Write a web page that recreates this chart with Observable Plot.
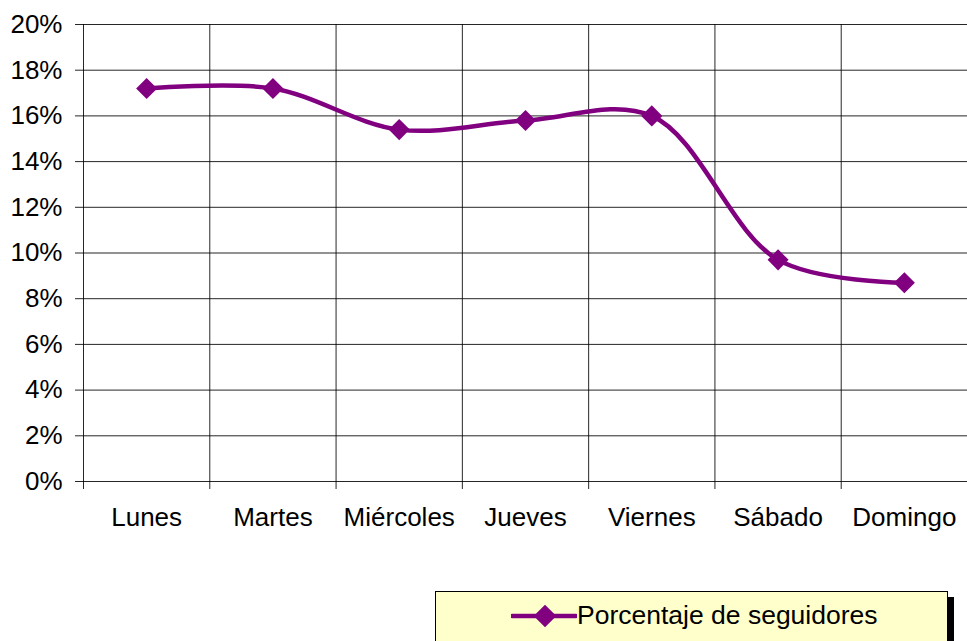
<!DOCTYPE html>
<html>
<head>
<meta charset="utf-8">
<script src="https://cdn.jsdelivr.net/npm/d3@7"></script>
<script src="https://cdn.jsdelivr.net/npm/@observablehq/plot@0.6"></script>
<style>
  body { margin: 0; background: #fff; font-family: Arial, "Liberation Sans", sans-serif; }
  #wrap { position: relative; width: 967px; height: 641px; overflow: hidden; }
  #legend {
    position: absolute; left: 435px; top: 591px; width: 513px; height: 60px;
    background: #FFFFCC; border: 1px solid #000; box-shadow: 6px 6px 0 #000;
    box-sizing: border-box;
  }
  #legend .item { position: absolute; left: 75px; top: 8px; display: flex; align-items: center; }
  #legend span { font-size: 26.5px; color: #000; margin-left: 0px; }
</style>
</head>
<body>
<div id="wrap">
  <div id="chart"></div>
  <div id="legend"><div class="item">
    <svg width="66" height="24"><line x1="1" x2="65" y1="12" y2="12" stroke="#800080" stroke-width="4.5" stroke-linecap="round"/><rect x="26" y="4" width="16" height="16" fill="#800080" transform="rotate(45 34 12)"/></svg>
    <span>Porcentaje de seguidores</span>
  </div></div>
</div>
<script>
const days = ["Lunes", "Martes", "Miércoles", "Jueves", "Viernes", "Sábado", "Domingo"];
const values = [0.172, 0.172, 0.154, 0.158, 0.160, 0.097, 0.087];
const yTicks = [0, 0.02, 0.04, 0.06, 0.08, 0.10, 0.12, 0.14, 0.16, 0.18, 0.20];

const data = days.map((d, i) => ({ i, day: d, value: values[i] }));
const boundaries = d3.range(days.length + 1).map(i => i - 0.5);

const chart = Plot.plot({
  width: 967,
  height: 560,
  marginLeft: 83,
  marginRight: 0,
  marginTop: 24,
  marginBottom: 79,
  style: { fontFamily: "Arial, 'Liberation Sans', sans-serif", fontSize: "26px", background: "transparent", color: "#000" },
  x: { type: "linear", domain: [-0.5, days.length - 0.5] },
  y: { domain: [0, 0.20] },
  marks: [
    Plot.ruleY(yTicks, { y: d => d, x1: -0.5, x2: days.length - 0.5, stroke: "#000", strokeWidth: 1, strokeOpacity: 0.85, insetLeft: -8 }),
    Plot.ruleX(boundaries, { x: d => d, y1: 0.20, y2: 0, stroke: "#000", strokeWidth: 1, strokeOpacity: 0.85, insetBottom: -8 }),
    Plot.axisY({ ticks: yTicks, tickFormat: d3.format(".0%"), tickSize: 0, tickPadding: 21, fontSize: 26, label: null }),
    Plot.axisX({ ticks: d3.range(days.length), tickFormat: i => days[i], tickSize: 0, tickPadding: 26, fontSize: 26, label: null }),
    Plot.line(data, { x: "i", y: "value", stroke: "#800080", strokeWidth: 4.5, curve: "catmull-rom" }),
    Plot.dot(data, { x: "i", y: "value", symbol: "square", r: 8.4, rotate: 45, fill: "#800080", stroke: "none" })
  ]
});
document.getElementById("chart").appendChild(chart);
</script>
</body>
</html>
